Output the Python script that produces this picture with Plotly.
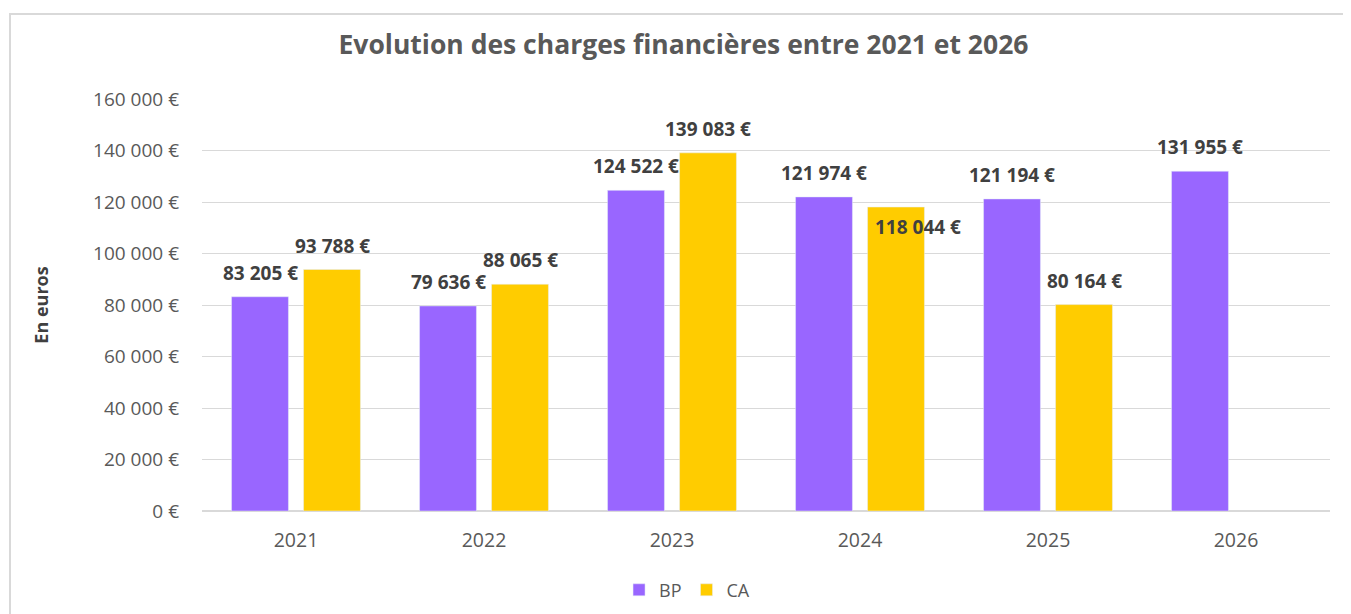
import plotly.graph_objects as go

years = ["2021", "2022", "2023", "2024", "2025", "2026"]
bp_values = [83205, 79636, 124522, 121974, 121194, 131955]
ca_values = [93788, 88065, 139083, 118044, 80164, None]
y_ticks = [0, 20000, 40000, 60000, 80000, 100000, 120000, 140000, 160000]

def fmt(v):
    return f"{v:,}".replace(",", " ") + " €"

PURPLE = "#9966FF"
YELLOW = "#FFCC00"
FONT = "Open Sans, Lato, sans-serif"

fig = go.Figure()
fig.add_trace(go.Bar(name="BP", x=years, y=bp_values, marker_color=PURPLE))
fig.add_trace(go.Bar(name="CA", x=years, y=ca_values, marker_color=YELLOW))

label_font = dict(family=FONT, size=19, color="#404040", weight="bold")
annotations = []
for i, v in enumerate(bp_values):
    annotations.append(dict(x=i, y=v, xref="x", yref="y", text=fmt(v), showarrow=False,
                            xshift=-36, yshift=24, font=label_font))
for i, v in enumerate(ca_values):
    if v is None:
        continue
    if years[i] == "2024":
        xs, ys = 58, -20
    else:
        xs, ys = 36, 24
    annotations.append(dict(x=i, y=v, xref="x", yref="y", text=fmt(v), showarrow=False,
                            xshift=xs, yshift=ys, font=label_font))

fig.update_layout(
    width=1351, height=614,
    margin=dict(l=194, r=29, t=91, b=111),
    paper_bgcolor="white", plot_bgcolor="white",
    barmode="group", bargap=0.234, bargroupgap=0.21,
    title=dict(text="Evolution des charges financières entre 2021 et 2026",
               x=0.5, xanchor="center", y=0.94, yanchor="middle",
               font=dict(family=FONT, size=26.5, color="#595959", weight="bold")),
    font=dict(family=FONT, size=18, color="#595959"),
    legend=dict(orientation="h", x=0.43, xanchor="center", y=-0.192, yanchor="middle",
                font=dict(size=18, color="#595959"), traceorder="normal"),
    annotations=annotations,
    shapes=[dict(type="rect", xref="paper", yref="paper", x0=-0.1702, x1=1.2, y0=-0.4, y1=1.2063,
                 line=dict(color="#d9d9d9", width=2), fillcolor="rgba(0,0,0,0)", layer="below")],
)
fig.update_yaxes(range=[0, 160000], tickvals=y_ticks, ticktext=[fmt(t) for t in y_ticks],
                 showgrid=True, gridcolor="#d9d9d9", gridwidth=1.2, zeroline=True, zerolinecolor="#d9d9d9",
                 ticks="", ticklabelstandoff=22,
                 title=dict(text="En euros", font=dict(family=FONT, size=18, color="#404040", weight="bold"),
                            standoff=39),
                 tickfont=dict(family=FONT, size=19, color="#595959"))
fig.update_xaxes(type="category", range=[-0.5, 5.5], autorange=False, showgrid=False, showline=False,
                 ticks="", ticklabelstandoff=15, tickfont=dict(family=FONT, size=19.5, color="#595959"))

fig.write_html("out.html")
